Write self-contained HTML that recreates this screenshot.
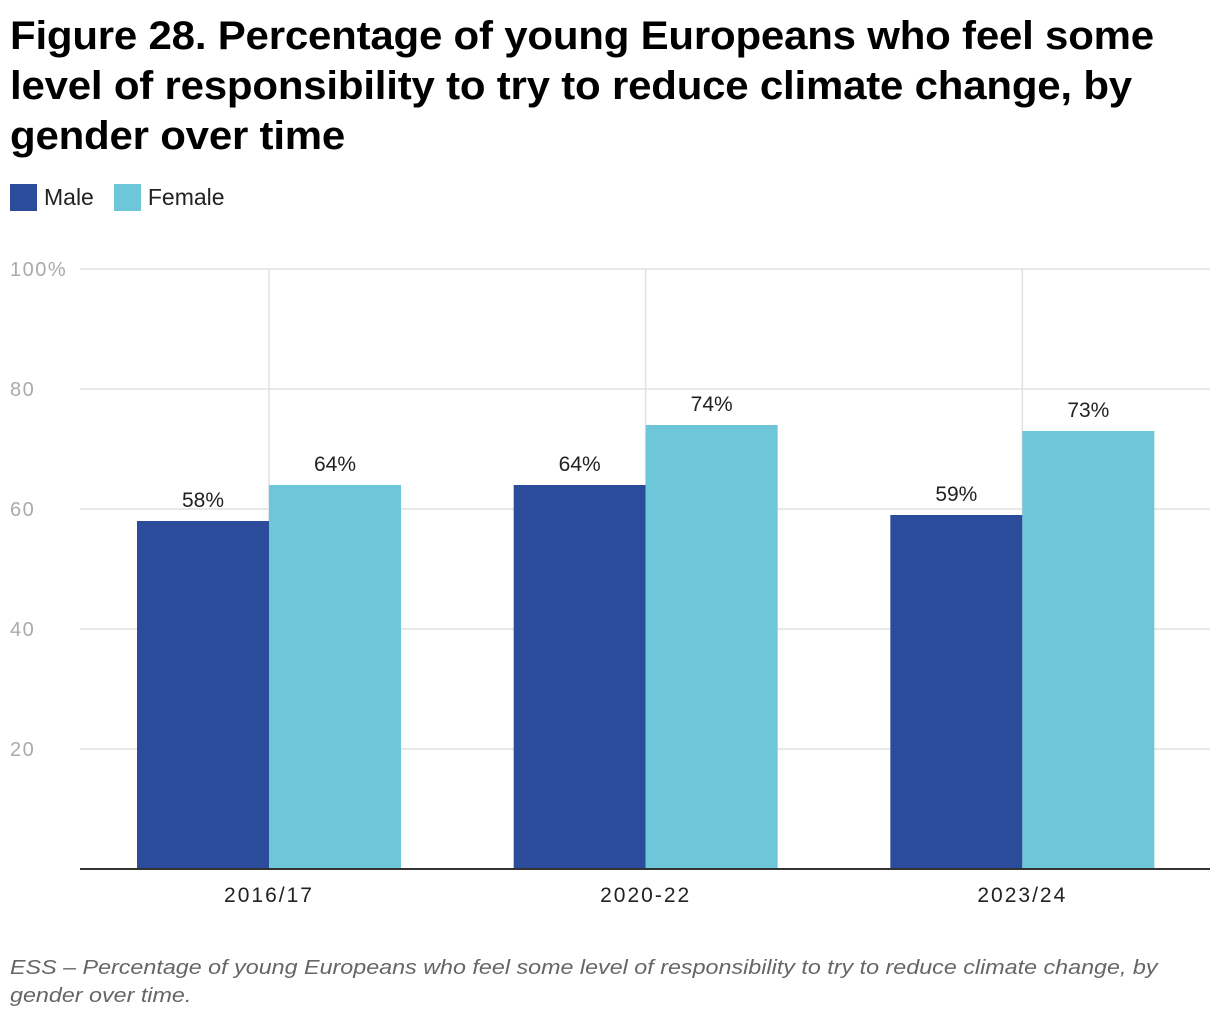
<!DOCTYPE html>
<html><head><meta charset="utf-8"><style>
body{margin:0;width:1220px;height:1020px;background:#fff;font-family:"Liberation Sans",sans-serif;overflow:hidden;position:relative}
.title{position:absolute;left:10px;top:11px;font-weight:bold;font-size:40px;line-height:50px;color:#000;white-space:nowrap;letter-spacing:-0.2px;transform-origin:0 0;transform:scaleX(1.05)}
.legend{position:absolute;left:10px;top:184px;font-size:23px;color:#222;display:flex;align-items:center}
.sw{width:27px;height:27px;display:inline-block;margin-right:7px}
.foot{position:absolute;left:10px;top:954px;font-style:italic;font-size:20px;line-height:28px;color:#666;white-space:nowrap;transform-origin:0 0;transform:scaleX(1.165)}
</style></head><body>
<div class="title">Figure 28. Percentage of young Europeans who feel some<br>level of responsibility to try to reduce climate change, by<br>gender over time</div>
<div class="legend">
<span style="display:flex;align-items:center;margin-right:20px"><span class="sw" style="background:#2b4c9b"></span>Male</span>
<span style="display:flex;align-items:center"><span class="sw" style="background:#6ec6d9"></span>Female</span>
</div>
<svg id="chart" width="1220" height="1020" style="position:absolute;left:0;top:0"></svg>
<div class="foot">ESS – Percentage of young Europeans who feel some level of responsibility to try to reduce climate change, by<br>gender over time.</div>
<script>
const categories=["2016/17","2020-22","2023/24"];
const maleValues=[58,64,59];
const femaleValues=[64,74,73];
const yTicks=[20,40,60,80,100];
const yTickLabels=["20","40","60","80","100%"];
const NS="http://www.w3.org/2000/svg";
const svg=document.getElementById('chart');
const x0=80,x1=1210,yTop=269,yBot=869;
const y=v=>yBot-(v/100)*(yBot-yTop);
const band=(x1-x0)/categories.length;
const cx=i=>x0+band*(i+0.5)+ (269-(x0+band*0.5));
const bw=132;
function el(t,a){const e=document.createElementNS(NS,t);for(const k in a)e.setAttribute(k,a[k]);svg.appendChild(e);return e;}
yTicks.forEach((t,i)=>{
 const g=el('line',{x1:x0,x2:x1,y1:y(t),y2:y(t),stroke:'#e0e0e0','stroke-width':1.5});
 
 
 const l=el('text',{x:10,y:y(t)+7,'font-size':20,fill:'#aaa','letter-spacing':1.5});
 l.textContent=yTickLabels[i];
 
 
});
categories.forEach((c,i)=>{
 const vx=cx(i);
 const v=el('line',{x1:vx,x2:vx,y1:yTop,y2:yBot,stroke:'#e0e0e0','stroke-width':1.5});
 
 
});
categories.forEach((c,i)=>{
 const vx=cx(i);
 [[maleValues[i],vx-bw,'#2b4c9b','bar-male'],[femaleValues[i],vx,'#6ec6d9','bar-female']].forEach(([val,bx,col,nm])=>{
  const r=el('rect',{x:bx,y:y(val),width:bw,height:yBot-y(val),fill:col});
  
  
  const t=el('text',{x:bx+bw/2,y:y(val)-14,'font-size':21,fill:'#222','text-anchor':'middle'});
  t.textContent=val+'%';
  
  
 });
 const xl=el('text',{x:vx,y:902,'font-size':21,fill:'#222','text-anchor':'middle','letter-spacing':2});
 xl.textContent=c;
 
 
});
const ax=el('line',{x1:x0,x2:x1,y1:yBot,y2:yBot,stroke:'#333','stroke-width':2});


</script>
</body></html>
